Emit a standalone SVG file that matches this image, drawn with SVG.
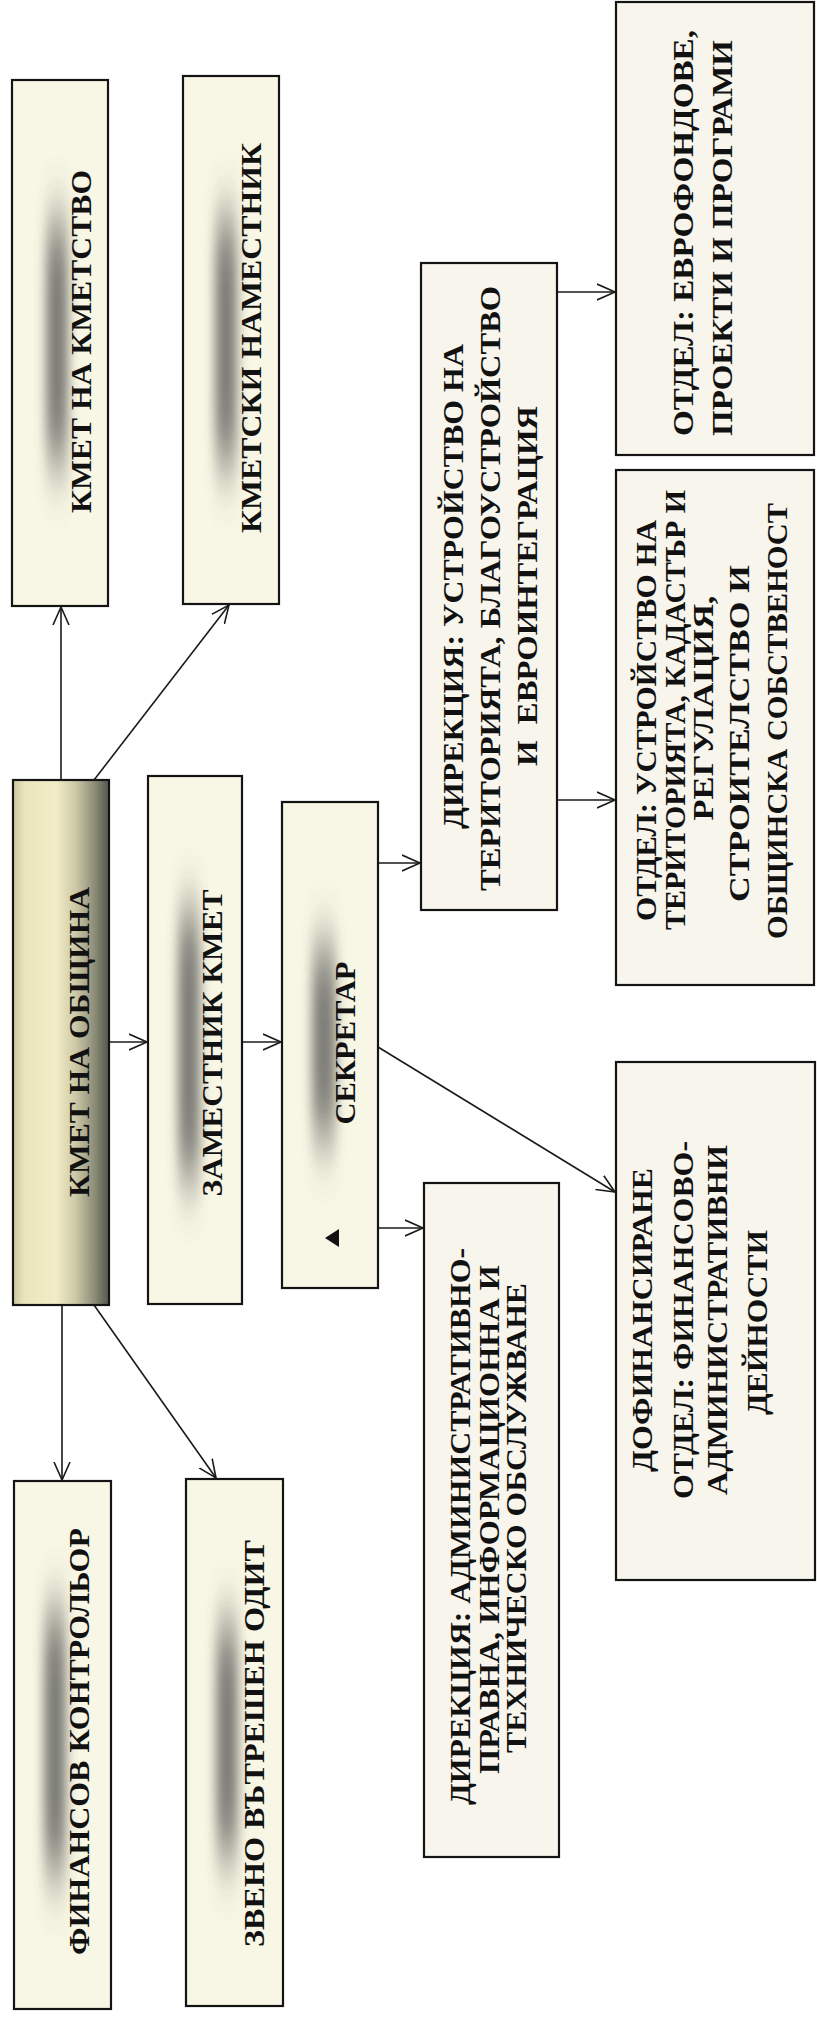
<svg xmlns="http://www.w3.org/2000/svg" width="817" height="2017" viewBox="0 0 817 2017">
<defs>
<style>
.box{fill:#f8f6e4;stroke:#141414;stroke-width:2.2}
.box2{fill:#f7f5ec;stroke:#141414;stroke-width:2.2}
.t{font-family:"Liberation Serif","Times New Roman",serif;font-weight:bold;font-size:29px;fill:#111;text-anchor:middle}
.c{fill:none;stroke:#1a1a1a;stroke-width:1.6}
.glow{fill:#4a4a4a;opacity:0.7}
</style>
<filter id="blur" x="-200%" y="-50%" width="500%" height="200%">
<feGaussianBlur stdDeviation="6 32"/>
</filter>
<linearGradient id="kmetg" x1="0" y1="0" x2="1" y2="0">
<stop offset="0" stop-color="#cbc6a0"/>
<stop offset="0.12" stop-color="#ebe5bb"/>
<stop offset="0.45" stop-color="#f2edc6"/>
<stop offset="0.65" stop-color="#cdc9a7"/>
<stop offset="0.85" stop-color="#8c8c78"/>
<stop offset="1" stop-color="#55564b"/>
</linearGradient>
<marker id="arr" markerUnits="userSpaceOnUse" markerWidth="22" markerHeight="20" refX="18" refY="9" orient="auto">
<path d="M0,1 L18,9 L0,17" fill="none" stroke="#1a1a1a" stroke-width="1.6"/>
</marker>
</defs>
<rect width="817" height="2017" fill="#ffffff"/>

<g id="connectors">
<line class="c" x1="61" y1="780" x2="61" y2="607" marker-end="url(#arr)"/>
<line class="c" x1="94" y1="780" x2="229" y2="605" marker-end="url(#arr)"/>
<line class="c" x1="109" y1="1042" x2="147" y2="1042" marker-end="url(#arr)"/>
<line class="c" x1="242" y1="1042" x2="281" y2="1042" marker-end="url(#arr)"/>
<line class="c" x1="378" y1="863" x2="420" y2="863" marker-end="url(#arr)"/>
<line class="c" x1="378" y1="1228" x2="423" y2="1228" marker-end="url(#arr)"/>
<line class="c" x1="378" y1="1047" x2="615" y2="1192" marker-end="url(#arr)"/>
<line class="c" x1="557" y1="292" x2="615" y2="292" marker-end="url(#arr)"/>
<line class="c" x1="557" y1="800" x2="615" y2="800" marker-end="url(#arr)"/>
<line class="c" x1="62" y1="1305" x2="62" y2="1480" marker-end="url(#arr)"/>
<line class="c" x1="94" y1="1305" x2="216" y2="1478" marker-end="url(#arr)"/>
</g>

<g id="kmet-kmetstvo">
<rect class="box" x="12" y="80" width="96" height="526"/>
<rect class="glow" x="46" y="225" width="22" height="235" filter="url(#blur)"/>
<text class="t" transform="translate(91,341.5) rotate(-90)" textLength="343" lengthAdjust="spacingAndGlyphs">КМЕТ НА КМЕТСТВО</text>
</g>

<g id="kmetski-namestnik">
<rect class="box" x="183" y="76" width="96" height="528"/>
<rect class="glow" x="215" y="222" width="22" height="240" filter="url(#blur)"/>
<text class="t" transform="translate(261,338) rotate(-90)" textLength="390" lengthAdjust="spacingAndGlyphs">КМЕТСКИ НАМЕСТНИК</text>
</g>

<g id="kmet-obshtina">
<rect x="13" y="780" width="96" height="525" fill="url(#kmetg)" stroke="#141414" stroke-width="2.2"/>
<text class="t" transform="translate(89,1042) rotate(-90)" textLength="310" lengthAdjust="spacingAndGlyphs">КМЕТ НА ОБЩИНА</text>
</g>

<g id="zamestnik-kmet">
<rect class="box" x="148" y="776" width="94" height="528"/>
<rect class="glow" x="178" y="915" width="22" height="260" filter="url(#blur)"/>
<text class="t" transform="translate(222,1043) rotate(-90)" textLength="307" lengthAdjust="spacingAndGlyphs">ЗАМЕСТНИК КМЕТ</text>
</g>

<g id="sekretar">
<rect class="box" x="282" y="802" width="96" height="486"/>
<rect class="glow" x="312" y="950" width="24" height="185" filter="url(#blur)"/>
<text class="t" transform="translate(355,1043) rotate(-90)" textLength="163" lengthAdjust="spacingAndGlyphs">СЕКРЕТАР</text>
<polygon points="325,1238 339,1229 339,1247" fill="#111"/>
</g>

<g id="direkciya-ustroystvo">
<rect class="box2" x="421" y="263" width="136" height="647"/>
<text class="t" transform="translate(463,586.5) rotate(-90)" textLength="485" lengthAdjust="spacingAndGlyphs">ДИРЕКЦИЯ: УСТРОЙСТВО НА</text>
<text class="t" transform="translate(500,588.5) rotate(-90)" textLength="605" lengthAdjust="spacingAndGlyphs">ТЕРИТОРИЯТА, БЛАГОУСТРОЙСТВО</text>
<text class="t" transform="translate(537,586) rotate(-90)" textLength="360" lengthAdjust="spacingAndGlyphs" xml:space="preserve">И  ЕВРОИНТЕГРАЦИЯ</text>
</g>

<g id="otdel-evrofondove">
<rect class="box2" x="616" y="2" width="198" height="453"/>
<text class="t" transform="translate(693,233) rotate(-90)" textLength="406" lengthAdjust="spacingAndGlyphs">ОТДЕЛ: ЕВРОФОНДОВЕ,</text>
<text class="t" transform="translate(732,238) rotate(-90)" textLength="396" lengthAdjust="spacingAndGlyphs">ПРОЕКТИ И ПРОГРАМИ</text>
</g>

<g id="otdel-ustroystvo">
<rect class="box2" x="616" y="470" width="198" height="515"/>
<text class="t" transform="translate(656,720.5) rotate(-90)" textLength="401" lengthAdjust="spacingAndGlyphs">ОТДЕЛ: УСТРОЙСТВО НА</text>
<text class="t" transform="translate(685,710) rotate(-90)" textLength="440" lengthAdjust="spacingAndGlyphs">ТЕРИТОРИЯТА, КАДАСТЪР И</text>
<text class="t" transform="translate(713,708) rotate(-90)" textLength="225" lengthAdjust="spacingAndGlyphs">РЕГУЛАЦИЯ,</text>
<text class="t" transform="translate(749,733.5) rotate(-90)" textLength="337" lengthAdjust="spacingAndGlyphs">СТРОИТЕЛСТВО И</text>
<text class="t" transform="translate(787,721) rotate(-90)" textLength="436" lengthAdjust="spacingAndGlyphs">ОБЩИНСКА СОБСТВЕНОСТ</text>
</g>

<g id="direkciya-administrativno">
<rect class="box2" x="424" y="1183" width="135" height="674"/>
<text class="t" transform="translate(470,1526.5) rotate(-90)" textLength="557" lengthAdjust="spacingAndGlyphs">ДИРЕКЦИЯ: АДМИНИСТРАТИВНО-</text>
<text class="t" transform="translate(499,1519.5) rotate(-90)" textLength="509" lengthAdjust="spacingAndGlyphs">ПРАВНА, ИНФОРМАЦИОННА И</text>
<text class="t" transform="translate(526,1518) rotate(-90)" textLength="470" lengthAdjust="spacingAndGlyphs">ТЕХНИЧЕСКО ОБСЛУЖВАНЕ</text>
</g>

<g id="otdel-finansovo">
<rect class="box2" x="616" y="1062" width="199" height="518"/>
<text class="t" transform="translate(652,1320) rotate(-90)" textLength="304" lengthAdjust="spacingAndGlyphs">ДОФИНАНСИРАНЕ</text>
<text class="t" transform="translate(693,1320) rotate(-90)" textLength="358" lengthAdjust="spacingAndGlyphs">ОТДЕЛ: ФИНАНСОВО-</text>
<text class="t" transform="translate(727,1320) rotate(-90)" textLength="350" lengthAdjust="spacingAndGlyphs">АДМИНИСТРАТИВНИ</text>
<text class="t" transform="translate(767,1322.5) rotate(-90)" textLength="185" lengthAdjust="spacingAndGlyphs">ДЕЙНОСТИ</text>
</g>

<g id="finansov-kontrolyor">
<rect class="box" x="14" y="1481" width="97" height="528"/>
<rect class="glow" x="44" y="1615" width="22" height="255" filter="url(#blur)"/>
<text class="t" transform="translate(89,1741.5) rotate(-90)" textLength="427" lengthAdjust="spacingAndGlyphs">ФИНАНСОВ КОНТРОЛЬОР</text>
</g>

<g id="zveno-odit">
<rect class="box" x="186" y="1479" width="97" height="527"/>
<rect class="glow" x="216" y="1628" width="22" height="225" filter="url(#blur)"/>
<text class="t" transform="translate(264,1743.5) rotate(-90)" textLength="407" lengthAdjust="spacingAndGlyphs">ЗВЕНО ВЪТРЕШЕН ОДИТ</text>
</g>
</svg>
